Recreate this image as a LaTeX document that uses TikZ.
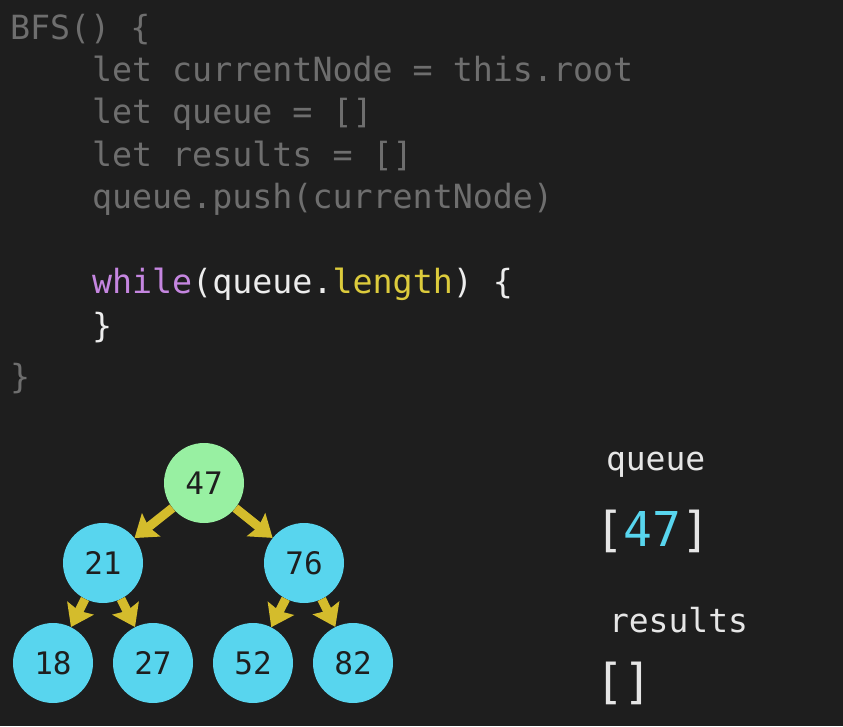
\documentclass[tikz,border=0pt]{standalone}
\usepackage{fontspec}
\setmonofont{DejaVu Sans Mono}
\usetikzlibrary{arrows.meta}
\definecolor{bg}{HTML}{1E1E1E}
\definecolor{codegray}{HTML}{6E6E6E}
\definecolor{codewhite}{HTML}{EDEDED}
\definecolor{kwpurple}{HTML}{C586E0}
\definecolor{propyellow}{HTML}{DCCB3C}
\definecolor{rootgreen}{HTML}{98F0A2}
\definecolor{nodeblue}{HTML}{58D5EE}
\definecolor{arrowyellow}{HTML}{D4BC2C}
\definecolor{numdark}{HTML}{1E1E1E}
\definecolor{labelwhite}{HTML}{E6E6E6}
\tikzset{
  codeline/.style={anchor=base west, inner sep=0pt, outer sep=0pt, text=codegray,
    font=\ttfamily\fontsize{33.3}{40}\selectfont},
  treenode/.style={circle, minimum size=80pt, inner sep=0pt, fill=nodeblue, text=numdark,
    font=\ttfamily\fontsize{31}{34}\selectfont},
  rootnode/.style={treenode, fill=rootgreen},
  edgearrow/.style={draw=arrowyellow, line width=9pt,
    -{Stealth[length=21pt, width=29pt, inset=3pt]}},
  paneltext/.style={anchor=base west, inner sep=0pt, outer sep=0pt, text=labelwhite,
    font=\ttfamily\fontsize{33}{40}\selectfont},
  bigtext/.style={anchor=base west, inner sep=0pt, outer sep=0pt, text=labelwhite,
    font=\ttfamily\fontsize{48}{52}\selectfont}
}
\begin{document}
\begin{tikzpicture}[x=1pt, y=-1pt]
\fill[bg] (0,0) rectangle (843,726);
\useasboundingbox (0,0) rectangle (843,726);
% code
\node[codeline] (l1) at (10,39) {BFS() \{};
\node[codeline] (l2) at (92,81) {let currentNode = this.root};
\node[codeline] (l3) at (92,123) {let queue = []};
\node[codeline] (l4) at (92,166) {let results = []};
\node[codeline] (l5) at (92,208) {queue.push(currentNode)};
\node[codeline] (l6) at (92,293) {\textcolor{kwpurple}{while}\textcolor{codewhite}{(queue.}\textcolor{propyellow}{length}\textcolor{codewhite}{) \{}};
\node[codeline, text=codewhite] (l7) at (92,337) {\}};
\node[codeline] (l8) at (10,388) {\}};
% tree
\node[rootnode] (n47) at (204,483) {47};
\node[treenode] (n21) at (103,563) {21};
\node[treenode] (n76) at (304,563) {76};
\node[treenode] (n18) at (53,663) {18};
\node[treenode] (n27) at (153,663) {27};
\node[treenode] (n52) at (253,663) {52};
\node[treenode] (n82) at (353,663) {82};
\draw[edgearrow] (n47) -- (n21);
\draw[edgearrow] (n47) -- (n76);
\draw[edgearrow] (n21) -- (n18);
\draw[edgearrow] (n21) -- (n27);
\draw[edgearrow] (n76) -- (n52);
\draw[edgearrow] (n76) -- (n82);
% panel
\node[paneltext] (qlabel) at (606,470) {queue};
\node[bigtext] (qval) at (595,546) {[\textcolor{nodeblue}{47}]};
\node[paneltext] (rlabel) at (609,632) {results};
\node[bigtext] (rval) at (595,698) {[]};
\end{tikzpicture}
\end{document}
